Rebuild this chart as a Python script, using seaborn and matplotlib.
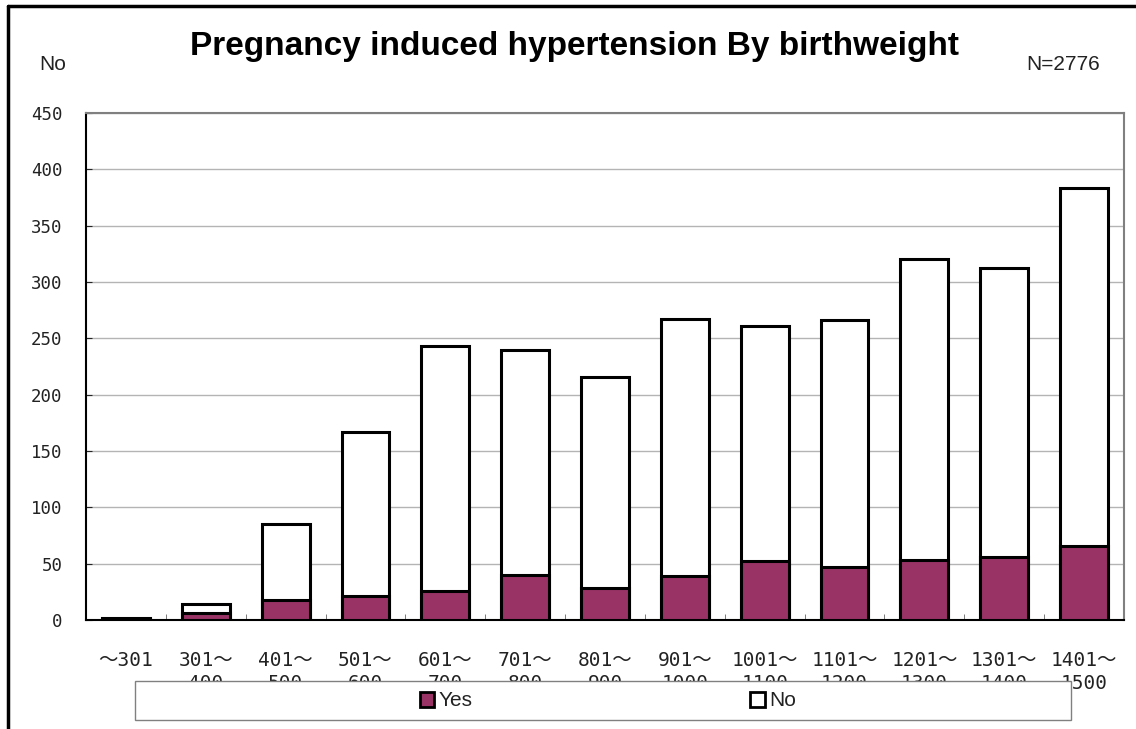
import numpy as np
import pandas as pd
import matplotlib
matplotlib.use("Agg")
import matplotlib.pyplot as plt
import seaborn as sns
from matplotlib.patches import Rectangle, Patch
from matplotlib.lines import Line2D

# data
groups = ["～301", "301～\n400", "401～\n500", "501～\n600", "601～\n700", "701～\n800",
          "801～\n900", "901～\n1000", "1001～\n1100", "1101～\n1200", "1201～\n1300",
          "1301～\n1400", "1401～\n1500"]
yes = [1, 6, 18, 21, 26, 40, 28, 39, 52, 47, 53, 56, 66]
no = [1, 8, 67, 146, 217, 200, 188, 228, 209, 219, 267, 256, 317]
yticks = [0, 50, 100, 150, 200, 250, 300, 350, 400, 450]

total = [a + b for a, b in zip(yes, no)]
df = pd.DataFrame({"group": groups, "Yes": yes, "Total": total})

sns.set_style("white")
mono = ["DejaVu Sans Mono", "Noto Sans CJK JP"]
plum = "#993366"
txt = "#222222"

fig = plt.figure(figsize=(11.36, 7.29), dpi=100)
ax = fig.add_axes([86 / 1136, 1 - 620 / 729, (1124 - 86) / 1136, (620 - 113) / 729])

# stacked bars: total (white) behind, yes (plum) in front
sns.barplot(data=df, x="group", y="Total", color="white", edgecolor="black",
            linewidth=2.2, width=0.6, saturation=1, ax=ax, zorder=3)
sns.barplot(data=df, x="group", y="Yes", color=plum, edgecolor="black",
            linewidth=2.2, width=0.6, saturation=1, ax=ax, zorder=4)

ax.set_ylim(0, 450)
ax.set_xlim(-0.5, len(groups) - 0.5)
ax.set_yticks(yticks)
ax.set_yticklabels([str(v) for v in yticks], family=mono, fontsize=12.5, color=txt)
ax.set_xticks(range(len(groups)))
ax.set_xticklabels(groups, family=mono, fontsize=14, color=txt, linespacing=1.3)
ax.tick_params(axis="x", length=0, pad=22)
ax.tick_params(axis="y", length=4, direction="in", pad=17, left=True)
# minor ticks between categories
ax.set_xticks(np.arange(0.5, len(groups) - 1, 1), minor=True)
ax.tick_params(axis="x", which="minor", length=4, direction="in", bottom=True, color="#666666")
ax.set_xlabel("")
ax.set_ylabel("")
ax.grid(axis="y", color="#b4b4b4", linewidth=1, zorder=0)
ax.set_axisbelow(True)
for side in ["top", "right"]:
    ax.spines[side].set_color("#808080")
    ax.spines[side].set_linewidth(1.5)
for side in ["left", "bottom"]:
    ax.spines[side].set_color("black")
    ax.spines[side].set_linewidth(1.5)

fig.text(575 / 1136, 1 - 46 / 729, "Pregnancy induced hypertension By birthweight",
         ha="center", va="center", fontsize=24, fontweight="bold", family="Liberation Sans",
         color="black")
fig.text(53 / 1136, 1 - 64 / 729, "No", ha="center", va="center", fontsize=15,
         family="Liberation Sans", color=txt)
fig.text(1063 / 1136, 1 - 64 / 729, "N=2776", ha="center", va="center", fontsize=15,
         family="Liberation Sans", color=txt)

# outer chart frame (top and left edges visible)
fig.add_artist(Line2D([8 / 1136, 8 / 1136], [0, 1 - 6 / 729], color="black", lw=2.5,
                      transform=fig.transFigure))
fig.add_artist(Line2D([8 / 1136, 1], [1 - 6 / 729, 1 - 6 / 729], color="black", lw=2.5,
                      transform=fig.transFigure))

# legend box, drawn over the second line of the tick labels
fig.add_artist(Rectangle((135 / 1136, 1 - 720 / 729), (1071 - 135) / 1136, 39 / 729,
                         transform=fig.transFigure, facecolor="white", edgecolor="#808080",
                         lw=1, zorder=10))
h_yes = Patch(facecolor=plum, edgecolor="black", lw=2)
h_no = Patch(facecolor="white", edgecolor="black", lw=2)
for h, lab, xc in [(h_yes, "Yes", 446 / 1136), (h_no, "No", 773 / 1136)]:
    leg = fig.legend([h], [lab], loc="center", bbox_to_anchor=(xc, 1 - 701 / 729),
                     frameon=False, handlelength=0.7, handleheight=0.7, handletextpad=0.2,
                     prop={"family": "Liberation Sans", "size": 15})
    for t in leg.get_texts():
        t.set_color(txt)
    leg.set_zorder(11)

fig.savefig("out.png", dpi=100)
